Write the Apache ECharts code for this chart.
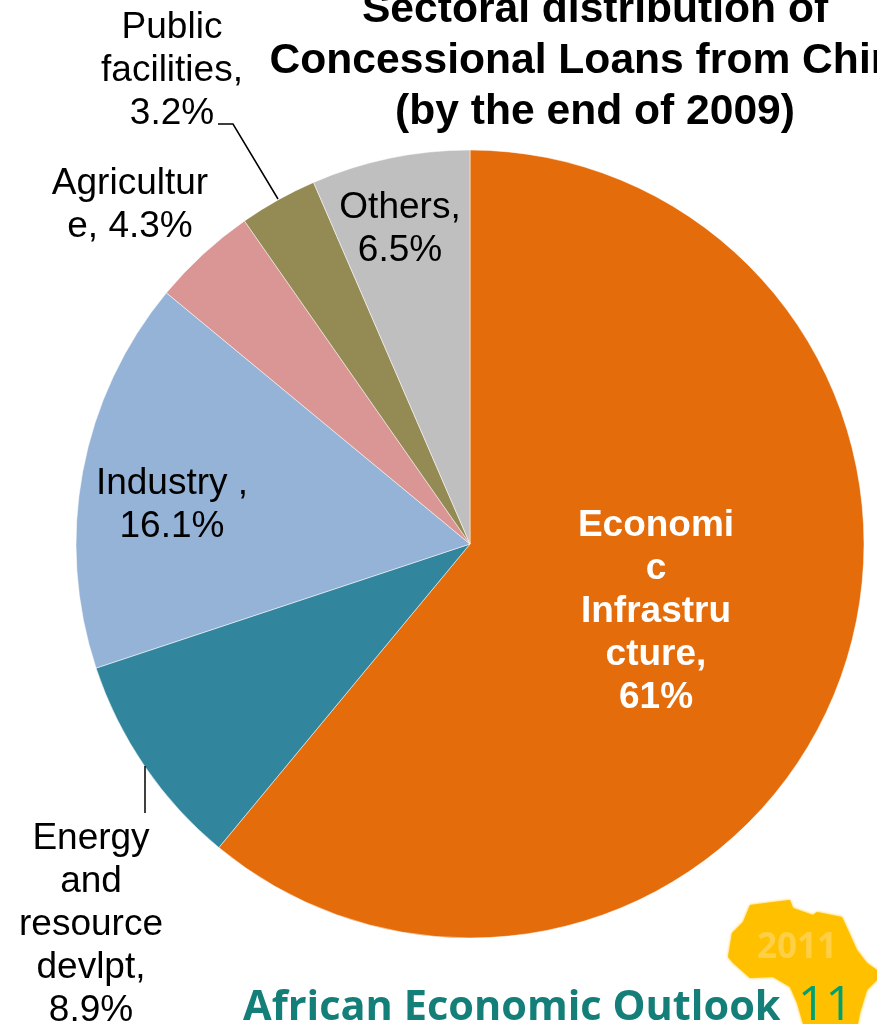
<!DOCTYPE html>
<html>
<head>
<meta charset="utf-8">
<style>html,body{margin:0;padding:0;background:#fff;overflow:hidden}#chart{width:877px;height:1024px}</style>
<script src="https://cdn.jsdelivr.net/npm/echarts@6/dist/echarts.min.js"></script>
</head>
<body>
<div id="chart"></div>
<script>
// Sector shares, clockwise from twelve o'clock
const sectors = ['Economic Infrastructure', 'Energy and resource devlpt', 'Industry', 'Agriculture', 'Public facilities', 'Others'];
const shares = [61, 8.9, 16.1, 4.3, 3.2, 6.5];
const sliceColors = ['#E46C0A', '#31859C', '#95B3D7', '#D99694', '#948A54', '#BFBFBF'];
const wrappedNames = ['Economi\nc\nInfrastru\ncture,\n', 'Energy\nand\nresource\ndevlpt,\n', 'Industry ,\n', 'Agricultur\ne, ', 'Public\nfacilities,\n', 'Others,\n'];
const labelCentres = [[656, 612], [91, 925], [172, 505], [130, 205], [172, 71], [400, 229]];
const titleLines = 'Sectoral distribution of\nConcessional Loans from China\n(by the end of 2009)';

// Outline of the continent in the report logo
const africa = [[750,905],[773,902],[790,900],[793,908],[813,915],[817,912],[842,917],[848,930],[857,950],[867,963],[877,970],[877,980],[867,990],[860,1013],[858,1024],[803,1024],[797,1003],[790,987],[773,977],[750,978],[733,963],[728,957],[732,933],[743,922]];

const chart = echarts.init(document.getElementById('chart'), null, {renderer: 'canvas'});
chart.setOption({
  animation: false,
  backgroundColor: '#fff',
  title: {
    text: titleLines,
    left: 590, top: -20, textAlign: 'center',
    textStyle: {fontFamily: 'Liberation Sans', fontWeight: 'bold', fontSize: 42.6, lineHeight: 51, color: '#000'}
  },
  graphic: [
    {type: 'polygon', z: 0, shape: {points: africa}, style: {fill: '#FFC000', shadowBlur: 3, shadowColor: '#FFC000'}},
    {type: 'text', z: 1, style: {text: '2011', x: 797, y: 948, textAlign: 'center', textVerticalAlign: 'middle', font: 'bold 35px "Open Sans"', fill: '#FFCF45'}},
    {type: 'text', z: 1, style: {text: 'African Economic Outlook', x: 243, y: 1008, textVerticalAlign: 'middle', font: 'bold 41.5px "Open Sans"', fill: '#137F78', shadowBlur: 2, shadowColor: '#137F78'}},
    {type: 'text', z: 2, style: {text: '11', x: 798, y: 1006, textVerticalAlign: 'middle', font: '48px "Open Sans"', fill: '#00A070'}},
    {type: 'polyline', z: 3, shape: {points: [[145, 766], [145, 813]]}, style: {stroke: '#000', lineWidth: 1.5, fill: 'none'}},
    {type: 'polyline', z: 3, shape: {points: [[278, 199], [233, 124], [218, 124]]}, style: {stroke: '#000', lineWidth: 1.5, fill: 'none'}}
  ],
  series: [{
    type: 'pie',
    center: [470, 544],
    radius: [0, 394],
    startAngle: 90,
    clockwise: true,
    silent: true,
    itemStyle: {borderColor: 'rgba(255,255,255,0.5)', borderWidth: 1},
    labelLine: {show: false},
    label: {
      show: true,
      position: 'inside',
      fontFamily: 'Liberation Sans',
      fontSize: 37,
      lineHeight: 43,
      color: '#000',
      align: 'center',
      formatter: p => wrappedNames[p.dataIndex] + p.value + '%'
    },
    labelLayout: p => ({x: labelCentres[p.dataIndex][0], y: labelCentres[p.dataIndex][1], align: 'center', verticalAlign: 'middle'}),
    data: sectors.map((name, i) => ({
      name,
      value: shares[i],
      itemStyle: {color: sliceColors[i]},
      label: i === 0 ? {color: '#fff', fontWeight: 'bold'} : undefined
    }))
  }]
});
</script>
</body>
</html>
